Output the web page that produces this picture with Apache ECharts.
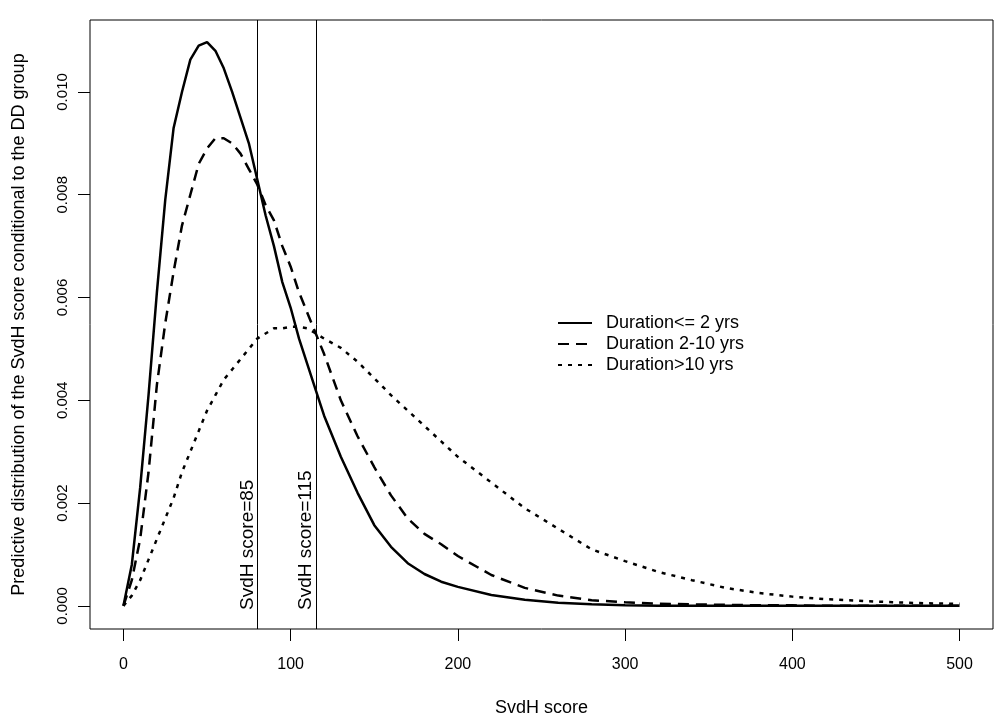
<!DOCTYPE html>
<html>
<head>
<meta charset="utf-8">
<script src="https://cdn.jsdelivr.net/npm/echarts@6/dist/echarts.min.js"></script>
<style>html,body{margin:0;padding:0;background:#fff}#c{width:1004px;height:724px}</style>
</head>
<body>
<div id="c"></div>
<script>
var xs = [0,5,10,15,20,25,30,35,40,45,50,55,60,65,70,75,80,85,90,95,100,105,110,115,120,130,140,150,160,170,180,190,200,220,240,260,280,300,320,340,360,380,400,420,440,460,480,500];
var shortDur = [0,0.0008,0.0023,0.0041,0.0061,0.0079,0.0093,0.0100,0.01063,0.0109,0.01097,0.0108,0.01046,0.0100,0.0095,0.0090,0.0083,0.0076,0.0070,0.0063,0.0058,0.0052,0.0047,0.0042,0.0037,0.0029,0.0022,0.00157,0.00115,0.00083,0.00062,0.00047,0.00037,0.00021,0.00012,0.00006,0.00003,0.00001,0,0,0,0,0,0,0,0,0,0];
var midDur = [0,0.0005,0.0013,0.0026,0.0043,0.0055,0.0065,0.0074,0.0080,0.0086,0.0089,0.0091,0.0091,0.0090,0.0088,0.0085,0.0082,0.0078,0.0075,0.0070,0.0066,0.0061,0.0057,0.0053,0.0049,0.0040,0.0033,0.0027,0.00215,0.0017,0.0014,0.0012,0.00097,0.0006,0.00035,0.0002,0.00011,0.00007,0.00004,0.00003,0.00002,0.00001,0.00001,0,0,0,0,0];
var longDur = [0,0.0002,0.0005,0.0009,0.0013,0.0017,0.0021,0.0026,0.0030,0.0034,0.0038,0.0041,0.0044,0.0046,0.0048,0.0050,0.0052,0.0053,0.0054,0.0054,0.00543,0.00543,0.0054,0.0053,0.0052,0.00502,0.00475,0.00443,0.0041,0.0038,0.0035,0.0032,0.0029,0.0024,0.0019,0.0015,0.0011,0.00087,0.00066,0.0005,0.00035,0.00025,0.00018,0.00013,0.0001,0.00007,0.00005,0.00004];
var seriesNames = ['Duration<= 2 yrs','Duration 2-10 yrs','Duration>10 yrs'];
var xTicks = [0,100,200,300,400,500];
var yTicks = [0,0.002,0.004,0.006,0.008,0.010];
var cutoffs = [80,115];
var cutoffLabels = ['SvdH score=85','SvdH score=115'];

function pairs(ys){ return xs.map(function(x,i){ return [x, ys[i]]; }); }

var FONT = 'Liberation Sans, Arial, sans-serif';
var chart = echarts.init(document.getElementById('c'), null, {renderer:'canvas'});
var lineBase = {width:2.5, color:'#000'};
chart.setOption({
  animation:false,
  backgroundColor:'#fff',
  textStyle:{fontFamily:FONT, color:'#000'},
  grid:{left:90, right:11, top:20, bottom:95, show:true, borderColor:'#000', borderWidth:1, backgroundColor:'transparent'},
  legend:{
    orient:'vertical', left:552, top:309, itemWidth:34, itemHeight:14, itemGap:3,
    itemStyle:{color:'rgba(0,0,0,0)', borderColor:'rgba(0,0,0,0)', borderWidth:0},
    textStyle:{fontSize:18, color:'#000', fontFamily:FONT, padding:[0,0,0,9]},
    data:seriesNames
  },
  xAxis:{
    type:'value', min:-20, max:520,
    name:'SvdH score', nameLocation:'middle', nameGap:70,
    nameTextStyle:{fontSize:18, color:'#000', fontFamily:FONT},
    axisLine:{show:false, onZero:false},
    axisTick:{show:true, inside:false, length:12, lineStyle:{color:'#000'}, customValues:xTicks},
    axisLabel:{customValues:xTicks, fontSize:16, color:'#000', margin:28, fontFamily:FONT},
    splitLine:{show:false}
  },
  yAxis:{
    type:'value', min:-0.00045, max:0.0114,
    name:'Predictive distribution of the SvdH score conditional to the DD group',
    nameLocation:'middle', nameGap:62,
    nameTextStyle:{fontSize:18, color:'#000', fontFamily:FONT},
    axisLine:{show:false, onZero:false},
    axisTick:{show:true, inside:false, length:12, lineStyle:{color:'#000'}, customValues:yTicks},
    axisLabel:{customValues:yTicks, fontSize:15, color:'#000', rotate:90, margin:20,
      formatter:function(v){ return v.toFixed(3); }},
    splitLine:{show:false}
  },
  series:[
    {name:seriesNames[0], type:'line', symbol:'none', data:pairs(shortDur),
     lineStyle:Object.assign({type:'solid'}, lineBase), itemStyle:{color:'#000'},
     markLine:{silent:true, symbol:'none', animation:false,
       lineStyle:{color:'#000', width:1, type:'solid'},
       label:{show:true, position:'insideStartTop', color:'#000', fontSize:19, fontFamily:FONT, distance:[19,0]},
       data:cutoffs.map(function(c,i){ return {xAxis:c, label:{formatter:cutoffLabels[i]}}; })
     }},
    {name:seriesNames[1], type:'line', symbol:'none', data:pairs(midDur),
     lineStyle:Object.assign({type:[11,7]}, lineBase), itemStyle:{color:'#000'}},
    {name:seriesNames[2], type:'line', symbol:'none', data:pairs(longDur),
     lineStyle:Object.assign({type:[4,6]}, lineBase), itemStyle:{color:'#000'}}
  ]
});
</script>
</body>
</html>
